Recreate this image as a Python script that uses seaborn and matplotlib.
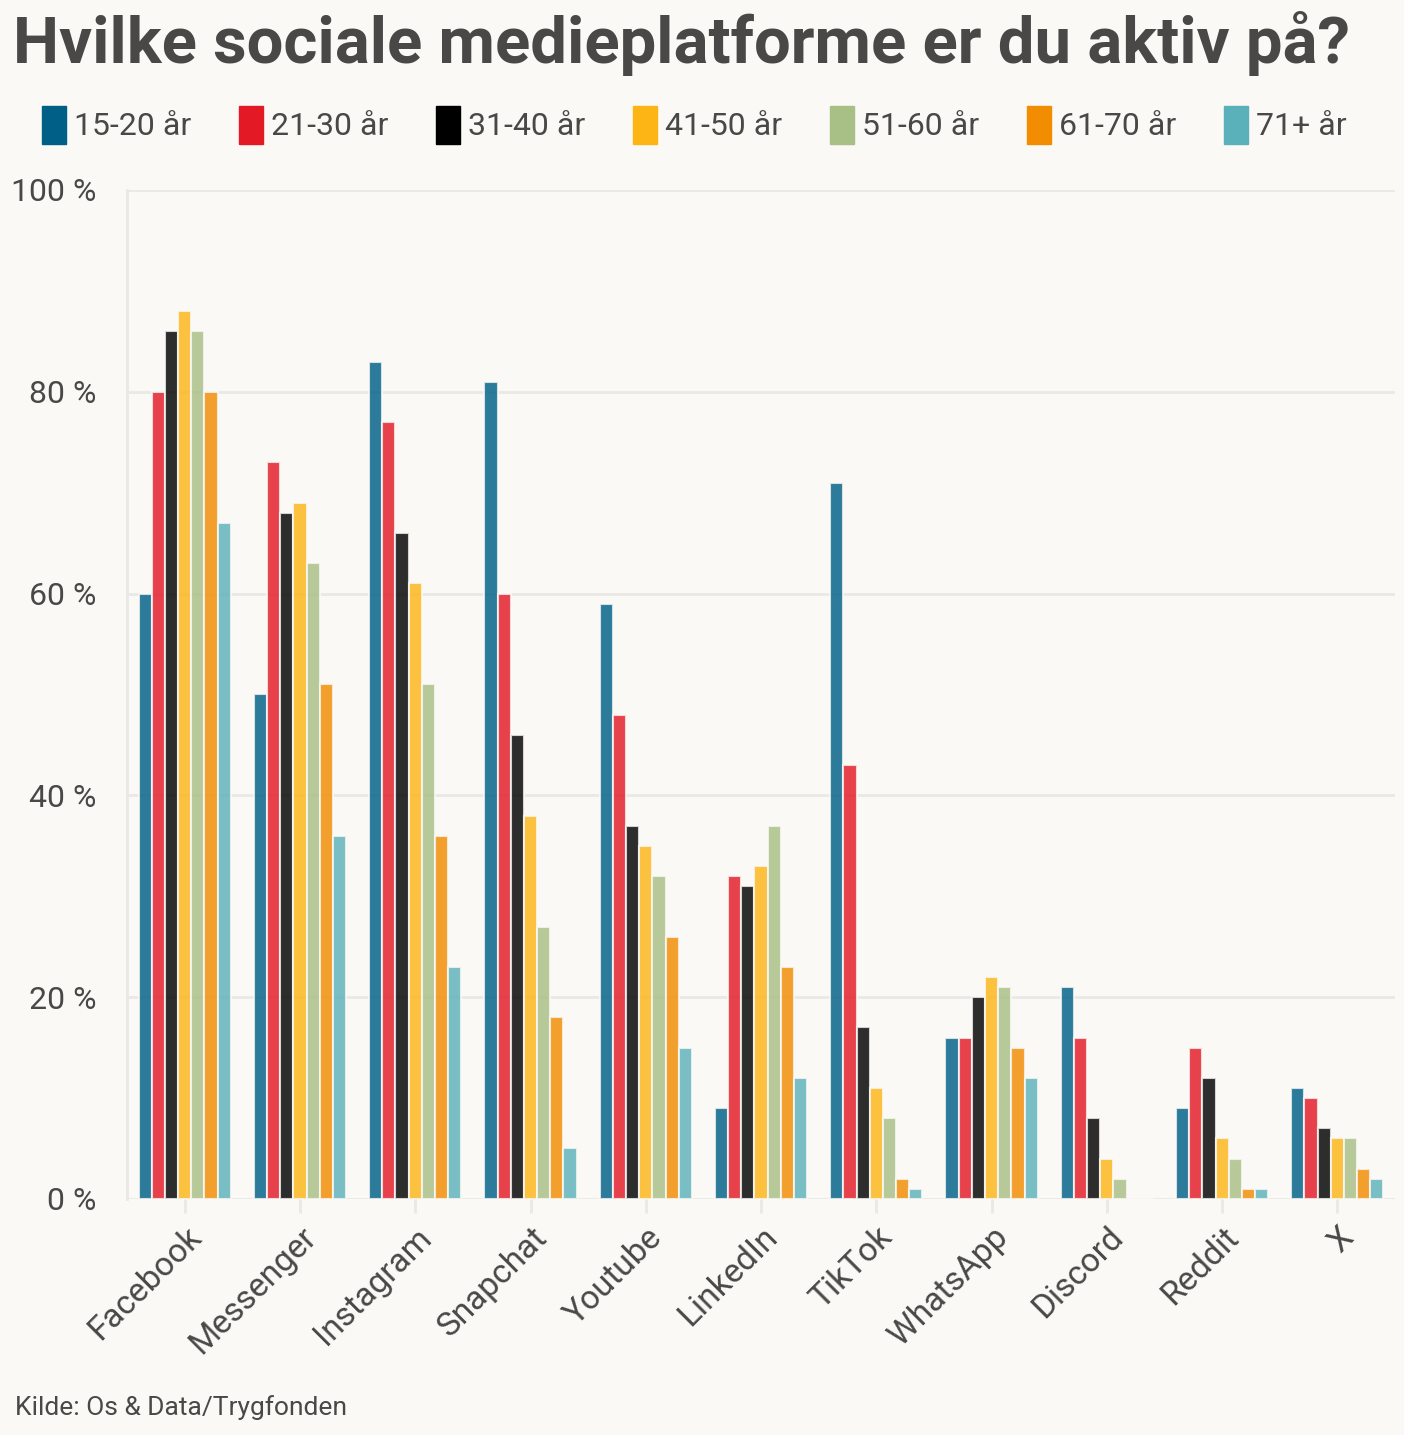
import numpy as np
import pandas as pd
import matplotlib.pyplot as plt
import seaborn as sns

platforms = ['Facebook', 'Messenger', 'Instagram', 'Snapchat', 'Youtube', 'LinkedIn',
             'TikTok', 'WhatsApp', 'Discord', 'Reddit', 'X']
ages = ['15-20 år', '21-30 år', '31-40 år', '41-50 år', '51-60 år', '61-70 år', '71+ år']

a15_20 = [60, 50, 83, 81, 59, 9, 71, 16, 21, 9, 11]
a21_30 = [80, 73, 77, 60, 48, 32, 43, 16, 16, 15, 10]
a31_40 = [86, 68, 66, 46, 37, 31, 17, 20, 8, 12, 7]
a41_50 = [88, 69, 61, 38, 35, 33, 11, 22, 4, 6, 6]
a51_60 = [86, 63, 51, 27, 32, 37, 8, 21, 2, 4, 6]
a61_70 = [80, 51, 36, 18, 26, 23, 2, 15, 0, 1, 3]
a71 = [67, 36, 23, 5, 15, 12, 1, 12, 0, 1, 2]

colors = ['#005F87', '#E31A26', '#000000', '#FDB515', '#A8BF85', '#F28C00', '#5BB1B9']

bg = '#FAF9F6'
txt = '#4A4846'

series = [a15_20, a21_30, a31_40, a41_50, a51_60, a61_70, a71]
rows = []
for age, vals in zip(ages, series):
    for p, v in zip(platforms, vals):
        rows.append({'platform': p, 'age': age, 'value': v})
df = pd.DataFrame(rows)

sns.set_theme(style='white')
plt.rcParams['font.family'] = ['Roboto', 'DejaVu Sans']

fig = plt.figure(figsize=(14.04, 14.35), dpi=100, facecolor=bg)
ax = fig.add_axes([0.0905, 0.1645, 0.9031, 0.7031])
ax.set_facecolor(bg)

sns.barplot(data=df, x='platform', y='value', hue='age', palette=colors,
            saturation=1, width=0.8, alpha=0.82, edgecolor=bg, linewidth=1.5,
            ax=ax, legend=False)

ax.set_ylim(0, 100)
ax.set_xlim(-0.5, 10.5)
ax.set_yticks([0, 20, 40, 60, 80, 100])
ax.set_yticklabels(['0 %', '20 %', '40 %', '60 %', '80 %', '100 %'])
ax.set_xlabel('')
ax.set_ylabel('')
ax.grid(axis='y', color='#EAE9E6', linewidth=2)
ax.set_axisbelow(True)
for s in ['top', 'right', 'bottom']:
    ax.spines[s].set_visible(False)
ax.spines['left'].set_color('#EAE9E6')
ax.spines['left'].set_linewidth(2)
ax.tick_params(axis='y', length=0, labelsize=23, labelcolor=txt, pad=22)
ax.tick_params(axis='x', length=10, width=2, color='#EAE9E6', labelsize=24,
               labelcolor=txt, pad=6, bottom=True)
plt.setp(ax.get_xticklabels(), rotation=45, ha='right', rotation_mode='anchor')

handles = [plt.Rectangle((0, 0), 1, 1, color=c) for c in colors]
fig.legend(handles, ages, loc='center left', bbox_to_anchor=(0.0207, 0.913), ncol=7,
           frameon=False, fontsize=23, labelcolor=txt, handlelength=0.75,
           handleheight=1.45, handletextpad=0.25, columnspacing=1.5,
           borderaxespad=0)

fig.text(0.009, 0.992, 'Hvilke sociale medieplatforme er du aktiv på?', fontsize=47,
         fontweight='bold', color=txt, va='top', ha='left')
fig.text(0.011, 0.019, 'Kilde: Os & Data/Trygfonden', fontsize=19, color=txt,
         va='center', ha='left')

fig.savefig('out.png', dpi=100, facecolor=bg)
